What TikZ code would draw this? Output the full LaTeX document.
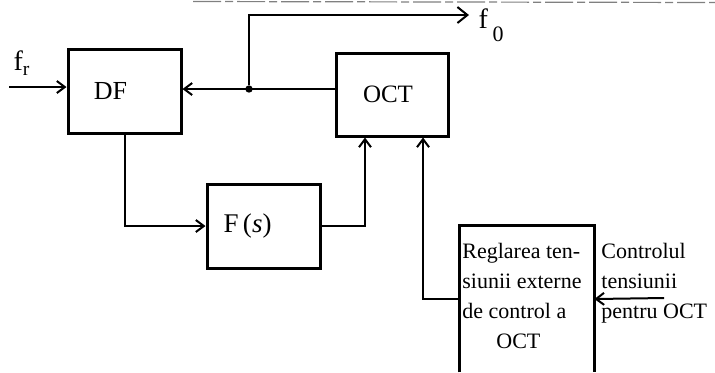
\documentclass[tikz,border=0pt]{standalone}
\usepackage{fontspec}
\setmainfont{Liberation Serif}
\usetikzlibrary{arrows.meta}

\begin{document}
\begin{tikzpicture}[x=0.5pt,y=-0.5pt,
  box/.style={draw,line width=1.5pt,minimum width=56.5pt,minimum height=42pt,inner sep=0pt},
  conn/.style={line width=1pt,-{Straight Barb[length=4pt,width=6pt]}},
  note/.style={inner sep=0pt,align=left,font=\fontsize{11}{15}\selectfont}]
\useasboundingbox (0,0) rectangle (715,372);
% scan edge
\draw[gray,line width=0.6pt,dash pattern=on 14pt off 2pt on 4pt off 2pt] (193,1.5) -- (715,2.5);
% blocks
\node[box,font=\fontsize{13}{15}\selectfont] (df) at (124.5,91) {DF\hspace*{14pt}};
\node[box,minimum width=56pt,minimum height=41.5pt,font=\fontsize{12.5}{14}\selectfont] (oct) at (392,94.5) {OCT\hspace*{4pt}};
\node[box,font=\fontsize{13.5}{15}\selectfont] (fs) at (263.5,226) {F\,(\textit{s})\hspace*{16pt}};
\node[minimum width=67pt,minimum height=73pt,inner sep=0pt] (reg) at (527,299) {};
\draw[line width=1.5pt] (reg.south west) |- (reg.north east) -- (reg.south east);
\node[note,anchor=north west] (regtxt) at (462,243) {Reglarea ten-\\ siunii externe\\ de control a\\ \hspace*{17pt}OCT};
% labels
\node[font=\fontsize{14}{16}\selectfont] (fr) at (22,63) {f$_\mathrm{r}$};
\node[font=\fontsize{14}{16}\selectfont] (fo) at (491,25) {f\,\raisebox{-1ex}{\fontsize{11}{11}\selectfont 0}};
\node[note,anchor=north west] (ctl) at (601,243) {Controlul\\ tensiunii\\ pentru OCT};
% points
\node[circle,fill,inner sep=1.3pt] (dot) at (249,89) {};
\coordinate (in) at (9,87);
\coordinate (out) at (469,15);
\coordinate (src) at (664,298);
% connectors
\draw[conn] (in) -- (in -| df.west);
\draw[conn] (oct.west |- dot) -- (dot -| df.east);
\draw[conn,-{Straight Barb[length=5pt,width=8pt]}] (dot) |- (out);
\draw[conn] (df.south) |- (fs.west);
\draw[conn] (fs.east) -| ([xshift=-13.5pt]oct.south);
\draw[conn] (reg.west) -| ([xshift=15.5pt]oct.south);
\draw[conn] (src) -- (reg.east);
\end{tikzpicture}
\end{document}
